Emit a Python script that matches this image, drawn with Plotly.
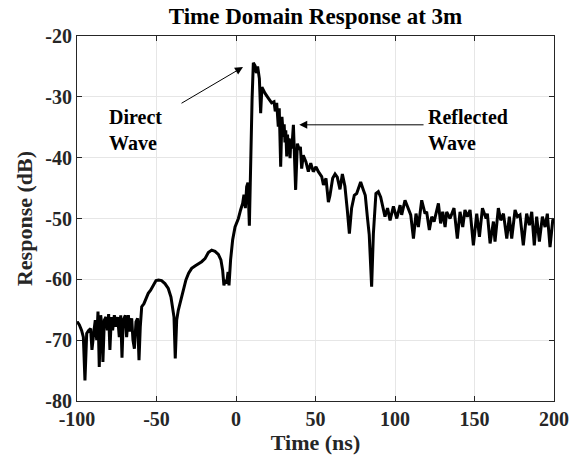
import plotly.graph_objects as go

time_ns = [
    -100, -99.8, -98.5, -97.1, -96, -95, -93.9, -92.7, -91.4, -90.6, -89.3, -88.5, -87.6, -86.8, -86,
    -85.1, -84.3, -83.7, -82.8, -81.8, -80.9, -80.1, -79.3, -78.4, -77.6, -76.5, -75.5, -74.4, -73.4,
    -72.5, -71.7, -70.9, -69.6, -68.8, -67.7, -66.7, -65.6, -64.8, -63.9, -62.9, -61.9, -61, -60.2,
    -59.3, -57.9, -56.6, -55.2, -53.7, -52, -50.3, -48.7, -46.8, -44.7, -42.6, -40.9, -39.9, -39,
    -38.2, -37.3, -36.3, -34.8, -33.1, -31.5, -29.8, -27.9, -25.8, -23.7, -21.6, -19.5, -17.4, -15.3,
    -13.2, -11.1, -9.5, -8.4, -7.6, -6.9, -5.9, -5.0, -4.4, -3.4, -2.1, -0.6, 1.5, 2.9, 4.2, 5.0, 5.9,
    6.7, 7.5, 8.4, 9.2, 10.1, 10.9, 12, 12.8, 13.6, 14.7, 15.5, 16.3, 18.2, 20.3, 22.4, 23.9, 24.7,
    25.6, 26.6, 27.2, 28.1, 28.9, 29.8, 30.3, 30.8, 31.3, 31.9, 32.4, 32.9, 33.4, 34, 34.5, 35.1, 36.1,
    37.5, 38.6, 39.8, 40.5, 41.3, 42.3, 44, 45.5, 47, 48.6, 50.3, 51.8, 53.9, 55, 56.6, 58.1, 59.1,
    60.8, 62.3, 63.7, 65.4, 66.9, 68.5, 70, 71.3, 72.7, 74.4, 75.9, 77, 78.4, 80.1, 81.3, 82.6, 83.8,
    85.3, 86.4, 88, 89.5, 91, 92.6, 93.7, 95.3, 96.9, 99, 101.1, 103.2, 104.2, 106.3, 108.4, 109.9,
    111.6, 113.2, 114.7, 116.8, 118.9, 119.9, 121.6, 123.1, 124.6, 127.3, 128.7, 130, 131.5, 132.5,
    134.6, 137.1, 139.2, 140.9, 142.6, 144, 145.5, 147.2, 149.3, 151.4, 153.1, 155, 157.3, 158.1,
    159.8, 161.9, 162.9, 165, 166.5, 168.2, 170.3, 171.9, 173.4, 175.5, 177, 178.6, 180.7, 182.8,
    184.5, 186, 187.6, 189.1, 190.8, 192.7, 194.4, 195.8, 197.5, 199.2, 200,
]

response_db = [
    -67.2, -67, -67.5, -68.4, -69.5, -76.6, -68.9, -68.4, -68.1, -71.6, -68.4, -66.7, -70, -65.3, -74.4,
    -65.9, -67.8, -73.6, -66.7, -66.2, -68.4, -65.7, -71.6, -66.2, -68.4, -65.9, -67.8, -66.2, -69.5,
    -65.9, -72.9, -66.7, -65.9, -69.5, -65.9, -68.6, -66.4, -70, -71.4, -67, -66.4, -73.3, -67.8,
    -64.5, -64, -63.1, -62.3, -61.8, -61, -60.2, -60.1, -60.2, -60.7, -61.5, -62.9, -64.8, -66.2,
    -73, -66.7, -65.1, -63.4, -61.5, -60.1, -59, -58.2, -57.8, -57.5, -57.1, -56.6, -55.6, -55.2,
    -55.4, -55.9, -56.8, -58.5, -61, -60.1, -60.7, -58.8, -61, -56.8, -53.5, -51.4, -50, -48.6, -47.5, -46.1, -48.3,
    -44.8, -44.1, -51.2, -40.4, -30.5, -24.4, -24.9, -26.1, -25, -27, -32.7, -28.4, -29.4, -30.2, -31, -30.8, -32.4,
    -31, -34.9, -31.9, -41.5, -33.3, -36.6, -34.5, -37.5, -35.5, -39.8, -36.2, -38.5, -36.8, -40.1, -37, -38.5, -34.6,
    -45.3, -37.7, -38.7, -38.2, -41.8, -39.6, -40.7, -42.3, -40.9, -42.3, -41.5, -42.3, -43.1, -44.5, -43.4, -47.3, -46.2,
    -43.4, -42.7, -43.2, -45.2, -42.7, -44.7, -48.6, -52.5, -48.3, -46.2, -45.9, -45.1, -44, -45.3, -46.2, -49.7, -52.7,
    -61.2, -52.5, -45.9, -45.6, -46.5, -48.6, -49.7, -48.3, -50.3, -48, -50, -47.8, -49.4, -47, -48.6, -49.4,
    -53.3, -49.2, -51.4, -47, -49.2, -48.9, -51.9, -49.7, -50.5, -47.5, -50.8, -48.9, -51.4, -48.9,
    -50, -48.3, -53.3, -48.9, -51.4, -48.6, -49.7, -48.6, -54.4, -49.2, -53, -48.3, -50, -49.2,
    -54.1, -50.5, -53.8, -48.3, -50.3, -49.2, -53.3, -49.7, -53.3, -48.6, -49.7, -49.4, -54.4, -49.2,
    -51.1, -48.9, -54.4, -49.7, -53.8, -49.7, -51.4, -49.2, -54.7, -50.3, -50,
]

x_ticks = [-100, -50, 0, 50, 100, 150, 200]
y_ticks = [-80, -70, -60, -50, -40, -30, -20]

FONT = "Liberation Serif, Times New Roman, serif"

fig = go.Figure()
fig.add_trace(go.Scatter(x=time_ns, y=response_db, mode="lines",
                         line=dict(color="black", width=3), showlegend=False))

axis_common = dict(
    showline=True, linecolor="#262626", linewidth=1, mirror="ticks",
    ticks="inside", ticklen=5, tickcolor="#262626", tickwidth=1,
    showgrid=True, gridcolor="#e6e6e6", gridwidth=1, zeroline=False,
    tickfont=dict(family=FONT, size=20, color="#262626", weight="bold"),
)

fig.update_xaxes(range=[-100, 200], tickvals=x_ticks, ticktext=[str(v) for v in x_ticks],
                 title=dict(text="Time (ns)", font=dict(family=FONT, size=22, color="#262626", weight="bold"),
                            standoff=2),
                 **axis_common)
fig.update_yaxes(range=[-80, -20], tickvals=y_ticks, ticktext=[str(v) for v in y_ticks],
                 title=dict(text="Response (dB)", font=dict(family=FONT, size=22, color="#262626", weight="bold"),
                            standoff=6),
                 **axis_common)

ann_font = dict(family=FONT, size=20, color="black", weight="bold")
fig.add_annotation(x=4.4, y=-25.1, ax=-35.2, ay=-31.2, xref="x", yref="y", axref="x", ayref="y",
                   text="", showarrow=True, arrowhead=2, arrowsize=1.6, arrowwidth=1, arrowcolor="black")
fig.add_annotation(x=39.8, y=-34.6, ax=118.9, ay=-34.6, xref="x", yref="y", axref="x", ayref="y",
                   text="", showarrow=True, arrowhead=2, arrowsize=1.6, arrowwidth=1, arrowcolor="black")
fig.add_annotation(x=-81, y=-35.5, xref="x", yref="y", text="Direct<br>Wave", showarrow=False,
                   xanchor="left", yanchor="middle", align="left", font=ann_font)
fig.add_annotation(x=119.5, y=-35.5, xref="x", yref="y", text="Reflected<br>Wave", showarrow=False,
                   xanchor="left", yanchor="middle", align="left", font=ann_font)

fig.update_layout(
    width=581, height=462,
    margin=dict(l=77, r=27, t=36, b=61),
    paper_bgcolor="white", plot_bgcolor="white",
    title=dict(text="Time Domain Response at 3m", x=0.543, xanchor="center", y=0.965, yanchor="middle",
               font=dict(family=FONT, size=23, color="black", weight="bold")),
)

fig.write_html("out.html")
